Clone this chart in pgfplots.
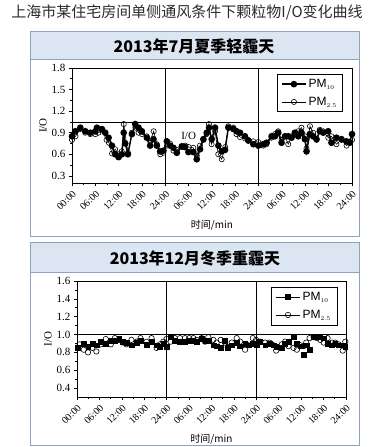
\documentclass[border=0pt]{standalone}
\usepackage{pgfplots}
\pgfplotsset{compat=1.18}
\usepackage{fontspec}
\setmainfont{Liberation Serif}
\setsansfont{Liberation Sans}
\newfontfamily\cjk{Noto Sans CJK SC}
\definecolor{headfill}{HTML}{DCE6F2}
\definecolor{panelborder}{HTML}{8EA3BC}
\definecolor{titlegray}{HTML}{2B2B2B}

\pgfplotstableread{
h v
0 0.85
0.86 0.92
2.14 0.97
3.42 0.92
4.7 0.90
5.99 0.92
6.42 0.97
7.7 0.95
8.55 0.90
9.41 0.83
10.27 0.72
11.12 0.60
11.98 0.56
12.83 0.60
13.3 0.90
13.69 0.75
14.37 0.60
15.4 0.88
16.25 1.02
17.11 0.97
17.96 0.92
19.25 0.83
20.1 0.72
20.96 0.81
21.81 0.72
22.67 0.64
23.52 0.65
24.38 0.78
25.24 0.72
26.09 0.69
26.95 0.62
28.23 0.71
29.08 0.70
29.94 0.63
31.22 0.63
32.08 0.53
32.93 0.67
33.79 0.81
34.65 0.90
35.24 0.97
35.93 0.81
36.78 0.97
37.64 0.72
38.49 0.64
39.35 0.66
40.21 0.97
41.49 0.95
42.34 0.92
43.2 0.90
44.48 0.85
45.34 0.79
46.62 0.74
47.9 0.72
49.19 0.74
50.04 0.76
51.33 0.85
52.18 0.85
53.04 0.90
53.89 0.76
54.75 0.85
55.6 0.85
56.46 0.83
57.31 0.90
58.17 0.85
59.02 0.90
59.88 0.81
60.31 0.64
61.16 0.88
62.02 0.85
62.87 0.81
63.73 0.92
64.59 0.90
65.87 0.92
66.72 0.76
68.01 0.83
69.29 0.81
70.57 0.78
71.43 0.76
72 0.88
}\sumten

\pgfplotstableread{
h v
0 0.80
0.9 0.85
2.1 0.95
3.4 0.90
4.7 0.88
6.0 0.88
6.8 0.90
7.7 0.93
8.9 0.80
9.5 0.76
10.3 0.61
11.1 0.67
12.0 0.60
12.8 0.64
13.3 1.02
14.4 0.62
15.4 0.90
16.3 0.97
17.1 0.90
18.0 0.88
19.2 0.85
20.1 0.78
21.0 0.92
21.8 0.74
22.7 0.60
23.5 0.62
24.4 0.72
25.2 0.75
26.1 0.65
27.0 0.66
28.2 0.70
29.1 0.72
30.0 0.70
31.2 0.69
32.1 0.58
32.9 0.72
33.8 0.80
34.6 0.88
35.2 1.02
35.9 0.74
36.8 0.92
37.6 0.60
38.5 0.53
39.4 0.70
40.2 0.99
41.5 0.97
42.3 0.88
43.2 0.84
44.5 0.82
45.3 0.80
46.6 0.78
47.9 0.77
49.2 0.72
50.0 0.74
51.3 0.83
52.2 0.88
53.0 0.92
53.9 0.80
54.8 0.85
55.6 0.74
56.5 0.85
57.3 0.88
58.2 0.92
59.0 0.97
59.9 0.85
60.3 0.68
61.2 0.99
62.0 0.90
62.9 0.80
63.7 0.94
64.6 0.92
65.9 0.83
66.7 0.85
68.0 0.74
69.3 0.80
70.6 0.72
71.4 0.77
72 0.80
}\sumtwofive

\pgfplotstableread{
h v
0.2 0.85
1.8 0.90
3.0 0.86
4.1 0.90
5.2 0.88
6.4 0.92
7.7 0.90
9.0 0.93
10.0 0.93
11.3 0.95
12.3 0.92
13.2 0.91
14.6 0.88
15.9 0.91
17.0 0.93
18.6 0.89
20.0 0.92
21.3 0.88
22.2 0.86
23.1 0.90
24.0 0.86
25.0 0.97
26.2 0.93
27.5 0.92
28.9 0.92
30.0 0.93
31.1 0.93
32.0 0.92
33.4 0.95
34.3 0.93
35.2 0.93
36.5 0.88
37.4 0.87
38.5 0.85
39.6 0.93
40.3 0.85
41.4 0.88
42.8 0.91
43.6 0.87
45.0 0.90
45.9 0.88
47.0 0.90
48.0 0.89
49.0 0.92
50.4 0.88
51.5 0.90
52.6 0.88
53.3 0.86
54.8 0.85
55.7 0.90
56.6 0.92
58.0 0.97
58.9 0.90
59.8 0.87
60.6 0.77
61.4 0.88
62.3 0.83
63.3 0.97
64.2 0.98
65.1 0.97
66.0 0.96
67.1 0.90
68.2 0.88
69.1 0.90
70.0 0.88
71.1 0.88
71.8 0.86
}\winten

\pgfplotstableread{
h v
0.72 0.89
1.79 0.83
2.95 0.80
4.11 0.85
5.19 0.81
6.35 0.89
7.69 0.95
9.03 0.89
10.11 0.96
11.27 0.94
12.34 0.91
13.24 0.89
14.58 0.94
15.92 0.92
16.99 0.96
18.6 0.92
19.95 0.96
21.29 0.85
22.18 0.89
23.08 0.92
23.97 0.95
25.04 0.92
26.21 0.96
27.55 0.96
28.89 0.96
30.05 0.96
31.13 0.96
32.02 0.94
33.36 0.96
34.26 0.92
35.15 0.97
36.49 0.94
37.39 0.91
38.46 0.94
39.62 0.91
40.34 0.86
41.41 0.91
42.75 0.96
43.65 0.92
44.99 0.83
45.88 0.88
47.05 0.96
47.94 0.94
49.02 0.92
50.36 0.91
51.52 0.91
52.59 0.88
53.31 0.82
54.83 0.89
55.72 0.92
56.62 0.87
57.96 0.85
58.86 0.83
59.75 0.88
60.64 0.87
61.36 0.91
62.25 0.96
63.33 0.97
64.22 0.96
65.12 0.94
66.01 0.91
67.08 0.96
68.25 0.91
69.14 0.91
70.04 0.89
71.11 0.82
71.82 0.92
}\wintwofive

\pgfplotsset{
  myaxis/.style={
    scale only axis,
    xmin=0, xmax=72,
    xtick={0,6,...,72},
    xticklabels={00:00,06:00,12:00,18:00,24:00,06:00,12:00,18:00,24:00,06:00,12:00,18:00,24:00},
    x tick label style={rotate=45, anchor=north east, font=\fontsize{10}{10}\selectfont, inner sep=2.5pt},
    y tick label style={font=\fontsize{11}{11}\selectfont},
    /pgf/number format/assume math mode=true,
    yticklabel style={/pgf/number format/.cd, fixed, fixed zerofill, precision=1},
    tick align=outside,
    xtick pos=bottom, ytick pos=left,
    minor x tick num=1, minor y tick num=1,
    major tick length=3pt, minor tick length=1.8pt,
    tick style={black, line width=0.6pt},
    axis line style={line width=0.8pt},
    xlabel={\cjk 时间/min},
    xlabel style={font=\fontsize{10}{10}\selectfont, yshift=-2pt},
    ylabel={I/O},
    ylabel style={font=\fontsize{11}{11}\selectfont, yshift=-2pt},
    legend cell align=left,
    legend image code/.code={
      \draw[mark repeat=2, mark phase=2, #1] plot coordinates {(0pt,0pt) (12pt,0pt) (24pt,0pt)};
    },
    legend style={font=\sffamily\fontsize{12}{13}\selectfont, draw=black, line width=0.6pt, inner xsep=4pt, inner ysep=3pt, row sep=4pt},
  }
}

\begin{document}
\begin{tikzpicture}
\useasboundingbox (0pt,0pt) rectangle (370pt,-447pt);
\node[font=\cjk\fontsize{15}{17}\selectfont, text=titlegray] at (187pt,-12pt) {上海市某住宅房间单侧通风条件下颗粒物I/O变化曲线};
% top panel
\fill[headfill] (30pt,-31pt) rectangle (359pt,-59pt);
\draw[panelborder, line width=1pt] (30pt,-31pt) rectangle (359pt,-236pt);
\draw[panelborder, line width=0.8pt] (30pt,-59pt) -- (359pt,-59pt);
\node[font=\cjk\bfseries\fontsize{16}{18}\selectfont] at (194pt,-46pt) {2013年7月夏季轻霾天};
% bottom panel
\fill[headfill] (30pt,-242pt) rectangle (359pt,-272pt);
\draw[panelborder, line width=1pt] (30pt,-242pt) rectangle (359pt,-445pt);
\draw[panelborder, line width=0.8pt] (30pt,-272pt) -- (359pt,-272pt);
\node[font=\cjk\bfseries\fontsize{16}{18}\selectfont] at (195pt,-258pt) {2013年12月冬季重霾天};

\begin{axis}[myaxis, at={(72pt,-183pt)}, anchor=south west, width=280pt, height=115pt,
  ymin=0.2, ymax=1.8, ytick={0.3,0.6,0.9,1.2,1.5,1.8},
  reverse legend,
  legend style={at={(0.968,0.948)}, anchor=north east}]
\addplot[forget plot, black, line width=0.6pt] coordinates {(24,0.2) (24,1.8)};
\addplot[forget plot, black, line width=0.6pt] coordinates {(48,0.2) (48,1.8)};
\addplot[forget plot, black, line width=0.8pt] coordinates {(0,1.05) (72,1.05)};
\addplot[black, line width=0.6pt, mark=o, mark size=2.6pt, mark options={fill=white, line width=0.6pt}] table[x=h, y=v] {\sumtwofive};
\addlegendentry{PM$_{\scriptscriptstyle 2.5}$}
\addplot[black, line width=1.4pt, mark=*, mark size=2.6pt] table[x=h, y=v] {\sumten};
\addlegendentry{PM$_{\scriptscriptstyle 10}$}
\node[font=\fontsize{11}{11}\selectfont, fill=white, inner sep=0.5pt] at (axis cs:30,0.86) {I/O};
\end{axis}

\begin{axis}[myaxis, at={(77pt,-397pt)}, anchor=south west, width=269pt, height=116pt,
  ymin=0.3, ymax=1.6, ytick={0.4,0.6,0.8,1.0,1.2,1.4,1.6},
  legend style={at={(0.967,0.948)}, anchor=north east}]
\addplot[forget plot, black, line width=0.6pt] coordinates {(24,0.3) (24,1.6)};
\addplot[forget plot, black, line width=0.6pt] coordinates {(48,0.3) (48,1.6)};
\addplot[forget plot, black, line width=0.6pt] coordinates {(0,1.0) (72,1.0)};
\addplot[forget plot, only marks, black, mark=square*, mark size=2.4pt] table[x=h, y=v] {\winten};
\addplot[forget plot, only marks, black, mark=o, mark size=2.7pt, mark options={fill=white, line width=0.6pt}] table[x=h, y=v] {\wintwofive};
\addlegendimage{black, line width=1.4pt, mark=square*, mark size=2.4pt}
\addlegendentry{PM$_{\scriptscriptstyle 10}$}
\addlegendimage{black, line width=0.6pt, mark=o, mark size=2.7pt, mark options={fill=white}}
\addlegendentry{PM$_{\scriptscriptstyle 2.5}$}
\end{axis}
\end{tikzpicture}
\end{document}
